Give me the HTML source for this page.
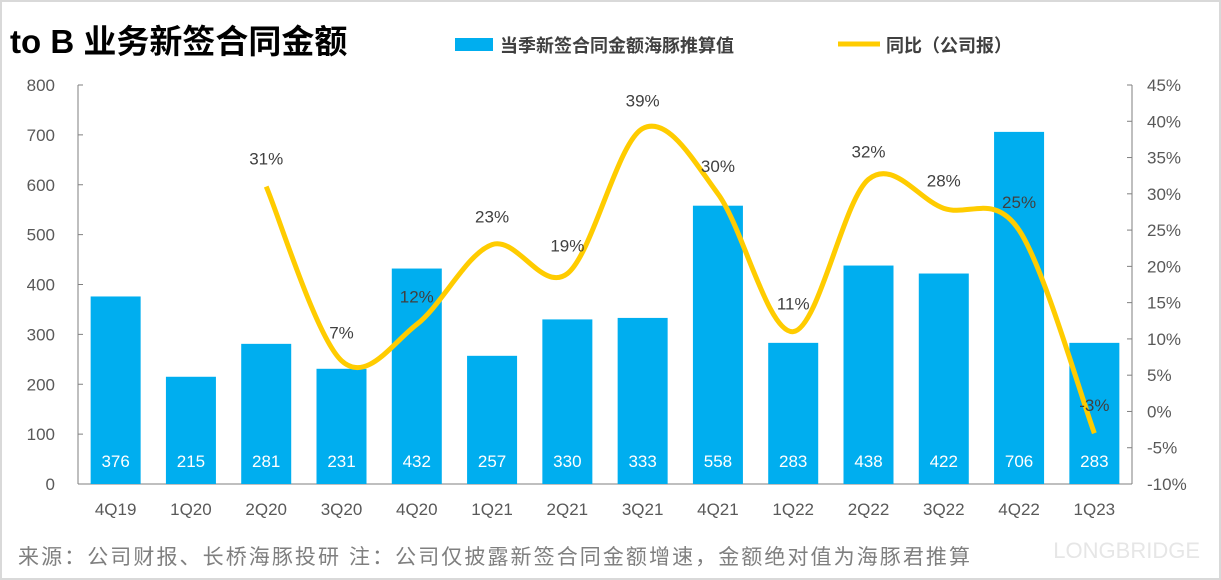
<!DOCTYPE html>
<html><head><meta charset="utf-8"><style>
body{margin:0;background:#fff;}
#wrap{position:relative;width:1221px;height:580px;overflow:hidden;font-family:"Liberation Sans","Noto Sans CJK SC",sans-serif;}
</style></head><body>
<div id="wrap">
<svg id="chart" width="1221" height="580" xmlns="http://www.w3.org/2000/svg">
<rect x="1" y="1" width="1219" height="578" fill="#fff" stroke="#d9d9d9" stroke-width="2"/>
<text x="10" y="53" font-size="33" font-weight="bold" fill="#000" font-family="Liberation Sans, Noto Sans CJK SC, sans-serif">to B 业务新签合同金额</text>
<rect x="455" y="38" width="38" height="13" fill="#00AEEF"/>
<text x="500" y="52" font-size="18" font-weight="bold" fill="#404040">当季新签合同金额海豚推算值</text>
<line x1="838" y1="44" x2="880" y2="44" stroke="#FFCC00" stroke-width="5"/>
<text x="886" y="52" font-size="18" font-weight="bold" fill="#404040">同比（公司报）</text>
<text x="18" y="564" font-size="21" fill="#7f7f7f" textLength="952" lengthAdjust="spacing">来源：公司财报、长桥海豚投研  注：公司仅披露新签合同金额增速，金额绝对值为海豚君推算</text>
<text x="1200" y="558" font-size="22" fill="#e6e6e6" text-anchor="end">LONGBRIDGE</text>
<g id="plot"></g>
</svg>
</div>
<script>
const categories=["4Q19","1Q20","2Q20","3Q20","4Q20","1Q21","2Q21","3Q21","4Q21","1Q22","2Q22","3Q22","4Q22","1Q23"];
const barValues=[376,215,281,231,432,257,330,333,558,283,438,422,706,283];
const yoyValues=[null,null,31,7,12,23,19,39,30,11,32,28,25,-3];
const leftTicks=[0,100,200,300,400,500,600,700,800];
const rightTicks=[-10,-5,0,5,10,15,20,25,30,35,40,45];

const NS="http://www.w3.org/2000/svg";
const g=document.getElementById('plot');
const x0=78,x1=1132,yTop=85,yBot=484;
const step=(x1-x0)/categories.length;
const xc=i=>x0+step*(i+0.5);
const yL=v=>yBot-(v/800)*(yBot-yTop);
const yR=v=>yBot-((v+10)/55)*(yBot-yTop);
function el(t,a,txt){const e=document.createElementNS(NS,t);for(const k in a)e.setAttribute(k,a[k]);if(txt!=null)e.textContent=txt;g.appendChild(e);return e;}

let e=el('line',{x1:x0,y1:yTop,x2:x0,y2:yBot,stroke:'#7f7f7f'});

e=el('line',{x1:x1,y1:yTop,x2:x1,y2:yBot,stroke:'#7f7f7f'});

e=el('line',{x1:x0,y1:yBot,x2:x1,y2:yBot,stroke:'#7f7f7f'});


leftTicks.forEach(v=>{
  const t=el('text',{x:55,y:yL(v)+6,'font-size':17,fill:'#595959','text-anchor':'end'},String(v));
  
  const m=el('line',{x1:x0,y1:yL(v),x2:x0+5,y2:yL(v),stroke:'#7f7f7f'});
  
});
rightTicks.forEach(v=>{
  const t=el('text',{x:1147,y:yR(v)+6,'font-size':17,fill:'#595959'},v+'%');
  
  const m=el('line',{x1:x1-5,y1:yR(v),x2:x1,y2:yR(v),stroke:'#7f7f7f'});
  
});

categories.forEach((c,i)=>{
  const b=el('rect',{x:xc(i)-25,y:yL(barValues[i]),width:50,height:yBot-yL(barValues[i]),fill:'#00AEEF'});
  
  const v=el('text',{x:xc(i),y:467,'font-size':17,fill:'#fff','text-anchor':'middle'},String(barValues[i]));
  
  const l=el('text',{x:xc(i),y:515,'font-size':17,fill:'#595959','text-anchor':'middle'},c);
  
});

const pts=[];
yoyValues.forEach((v,i)=>{if(v!=null)pts.push([xc(i),yR(v),v]);});
let d='M'+pts[0][0]+','+pts[0][1];
for(let i=0;i<pts.length-1;i++){
  const p0=pts[Math.max(0,i-1)],p1=pts[i],p2=pts[i+1],p3=pts[Math.min(pts.length-1,i+2)];
  const k=1/6;
  d+=' C'+(p1[0]+(p2[0]-p0[0])*k)+','+(p1[1]+(p2[1]-p0[1])*k)+' '+(p2[0]-(p3[0]-p1[0])*k)+','+(p2[1]-(p3[1]-p1[1])*k)+' '+p2[0]+','+p2[1];
}
const line=el('path',{d:d,fill:'none',stroke:'#FFCC00','stroke-width':5,'stroke-linejoin':'round'});

pts.forEach(p=>{
  const t=el('text',{x:p[0],y:p[1]-22,'font-size':17,fill:'#404040','text-anchor':'middle'},p[2]+'%');
  
});
</script>
</body></html>
